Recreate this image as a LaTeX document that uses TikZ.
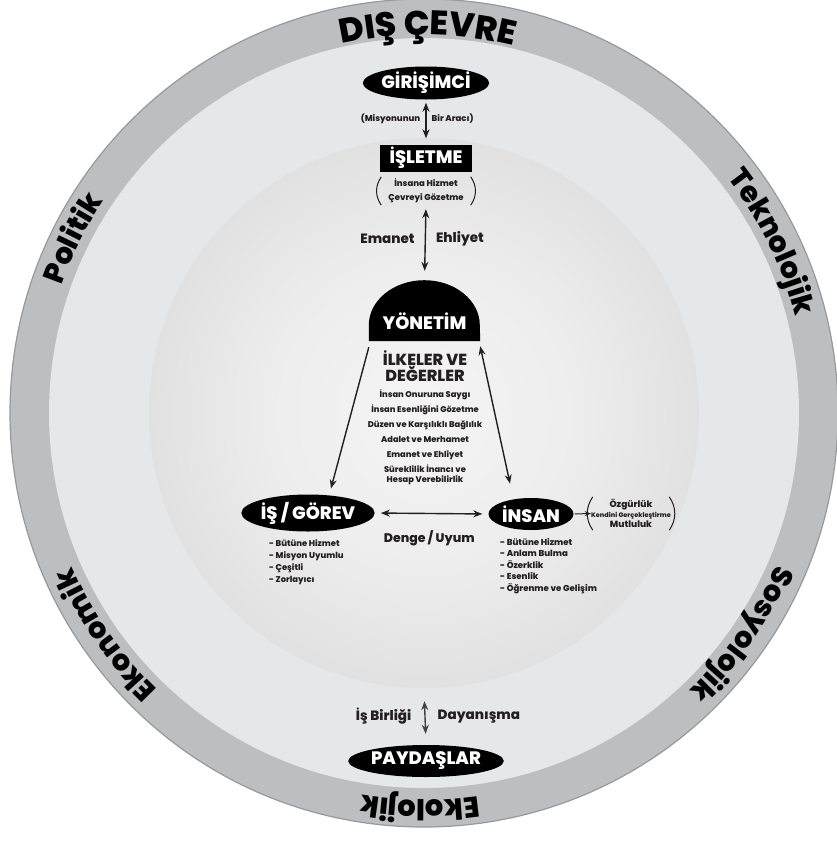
\documentclass[tikz,border=0pt]{standalone}
\usepackage{fontspec}
\setmainfont{Poppins}[BoldFont={Poppins ExtraBold}]
\usetikzlibrary{shapes.geometric,arrows.meta,decorations.text}
\definecolor{ink}{HTML}{231F20}
\definecolor{ringdark}{HTML}{BDBEC0}
\definecolor{ringedge}{HTML}{98999B}
\definecolor{ringlight}{HTML}{E6E7E8}
\pgfdeclareradialshading{sphereshade}{\pgfpoint{0bp}{0bp}}{color(0bp)=(white!96!black); color(14bp)=(white!93!black); color(28bp)=(white!87!black); color(40bp)=(white!80!black); color(50bp)=(white!73!black)}
\newcommand{\ringfont}{\fontsize{29}{29}\selectfont\bfseries}
\newcommand{\bigringfont}{\fontsize{34}{34}\selectfont\bfseries}
\tikzset{
  blackoval/.style={ellipse, fill=black, text=white, font=\fontsize{18}{18}\selectfont\bfseries, inner sep=0pt},
  arr/.style={-{Stealth[length=9pt,width=7pt]}, line width=1.4pt, draw=ink},
  darr/.style={{Stealth[length=9pt,width=7pt]}-{Stealth[length=9pt,width=7pt]}, line width=1.4pt, draw=ink},
  lbl/.style={text=ink, inner sep=0pt, font=\fontsize{13.5}{14}\selectfont\bfseries},
  smalllbl/.style={text=ink, inner sep=0pt, font=\fontsize{8.5}{9}\selectfont\bfseries},
  listtxt/.style={text=ink, inner sep=0pt, align=left, anchor=north west},
  paren/.style={draw=ink, line width=1pt},
  ringword/.style={decorate, decoration={text along path, text align=center, text={|\ringfont|#1}}}
}
\begin{document}
\begin{tikzpicture}[x=1pt, y=-1pt]
\useasboundingbox (0,0) rectangle (836,841);
\coordinate (C) at (424,413);
% rings
\node[circle, minimum size=828pt, inner sep=0pt, fill=ringdark, draw=ringedge, line width=1.2pt] (outer) at (C) {};
\node[circle, minimum size=750pt, inner sep=0pt, fill=ringlight] (mid) at (C) {};
\node[circle, minimum size=550pt, inner sep=0pt, shading=sphereshade] (sphere) at (C) {};
% ring words
\begin{scope}[shift={(C)}, y=1pt, color=ink]
  \path[decorate, decoration={text along path, text align=center, text={|\bigringfont|DIŞ ÇEVRE}}] (129.4:378) arc[start angle=129.4, end angle=49.4, radius=378];
  \path[ringword={Politik}] (193.5:384) arc[start angle=193.5, end angle=113.5, radius=384];
  \path[ringword={Teknolojik}] (66.2:384) arc[start angle=66.2, end angle=-13.8, radius=384];
  \path[ringword={Sosyolojik}] (5.2:384) arc[start angle=5.2, end angle=-74.8, radius=384];
  \path[ringword={Ekolojik}] (-50.6:387) arc[start angle=-50.6, end angle=-130.6, radius=387];
  \path[ringword={Ekonomik}] (254.8:384) arc[start angle=254.8, end angle=174.8, radius=384];
\end{scope}
% top
\node[blackoval, minimum width=108pt, minimum height=33pt] (gir) at (426,83) {GİRİŞİMCİ};
\node[fill=black, text=white, font=\fontsize{18}{18}\selectfont\bfseries, inner sep=0pt, minimum width=92pt, minimum height=27pt] (islet) at (426,158) {İŞLETME};
\draw[darr] (gir.south) -- (islet.north)
  [shorten <=3pt, shorten >=6pt]
  node[pos=.42, smalllbl, anchor=east, xshift=-5pt] {(Misyonunun}
  node[pos=.42, smalllbl, anchor=west, xshift=5pt] {Bir Aracı)};
\node[text=ink, inner sep=0pt, align=center, minimum width=97pt, minimum height=28pt, font=\fontsize{8.5}{14}\selectfont\bfseries] (p1) at (426,191) {İnsana Hizmet\\Çevreyi Gözetme};
\draw[paren] ([xshift=4pt]p1.north west) to[bend right=35] ([xshift=4pt]p1.south west);
\draw[paren] ([xshift=-4pt]p1.north east) to[bend left=35] ([xshift=-4pt]p1.south east);
% yonetim dome
\node[minimum width=111pt, minimum height=61pt, inner sep=0pt] (yon) at (424.5,310.5) {};
\fill[black] (yon.south west) -- ([yshift=16pt]yon.south west) arc[start angle=180, end angle=0, x radius=55.5pt, y radius=45pt] -- (yon.south east) -- cycle;
\node[text=white, inner sep=0pt, font=\fontsize{18}{18}\selectfont\bfseries] (yontxt) at (424.5,321) {YÖNETİM};
\draw[darr] (p1.south) -- (yon.north)
  [shorten <=4pt, shorten >=9pt]
  node[pos=.45, lbl, anchor=east, xshift=-10pt] {Emanet}
  node[pos=.45, lbl, anchor=west, xshift=10pt] {Ehliyet};
% principles
\node[text=ink, inner sep=0pt, align=center, font=\fontsize{16}{15.5}\selectfont\bfseries] (ilke) at (425,366) {İLKELER VE\\DEĞERLER};
\node[text=ink, inner sep=0pt, align=center, anchor=north, font=\fontsize{8.3}{15}\selectfont\bfseries] (deg) at (425,390) {İnsan Onuruna Saygı\\İnsan Esenliğini Gözetme\\Düzen ve Karşılıklı Bağlılık\\Adalet ve Merhamet\\Emanet ve Ehliyet\\Süreklilik İnancı ve\\[-5pt]Hesap Verebilirlik};
% is / insan
\node[blackoval, minimum width=118pt, minimum height=37pt] (is) at (308,513) {İŞ / GÖREV};
\node[blackoval, minimum width=85pt, minimum height=32pt] (ins) at (531,514) {İNSAN};
\draw[arr] ([yshift=-6pt]yon.south west) -- (is.40) [shorten >=7pt];
\draw[darr] ([yshift=-5pt]yon.south east) -- (ins.140) [shorten >=16pt];
\draw[darr] (is.east) -- (ins.west) [shorten <=6pt, shorten >=6pt]
  node[pos=.48, lbl, font=\fontsize{12.5}{13}\selectfont\bfseries, below=16pt] {Denge / Uyum};
\node[listtxt, font=\fontsize{8.4}{12}\selectfont\bfseries] (islist) at (269,539) {- Bütüne Hizmet\\- Misyon Uyumlu\\- Çeşitli\\- Zorlayıcı};
\node[listtxt, font=\fontsize{8.6}{11.5}\selectfont\bfseries] (inslist) at (500,538) {- Bütüne Hizmet\\- Anlam Bulma\\- Özerklik\\- Esenlik\\- Öğrenme ve Gelişim};
\node[text=ink, inner sep=0pt, align=center, minimum width=82pt, minimum height=33pt, font=\fontsize{9}{9.8}\selectfont\bfseries] (p2) at (631,513.5) {Özgürlük\\{\fontsize{6.5}{7}\selectfont Kendini Gerçekleştirme}\\Mutluluk};
\draw[paren] ([xshift=3pt]p2.north west) to[bend right=35] ([xshift=3pt]p2.south west);
\draw[paren] ([xshift=-3pt]p2.north east) to[bend left=35] ([xshift=-3pt]p2.south east);
\draw[-{Stealth[length=6pt,width=5pt]}, line width=1pt, draw=ink] (ins.east) -- ([xshift=1pt]p2.west) [shorten <=1pt];
% bottom
\node[blackoval, minimum width=122pt, minimum height=32pt] (pay) at (426,761) {PAYDAŞLAR};
\draw[darr, draw=ink!85] (sphere.south) -- (pay.north)
  [shorten <=13pt, shorten >=11pt]
  node[pos=.5, lbl, anchor=east, xshift=-13pt] {İş Birliği}
  node[pos=.5, lbl, anchor=west, xshift=12pt] {Dayanışma};
\end{tikzpicture}
\end{document}
